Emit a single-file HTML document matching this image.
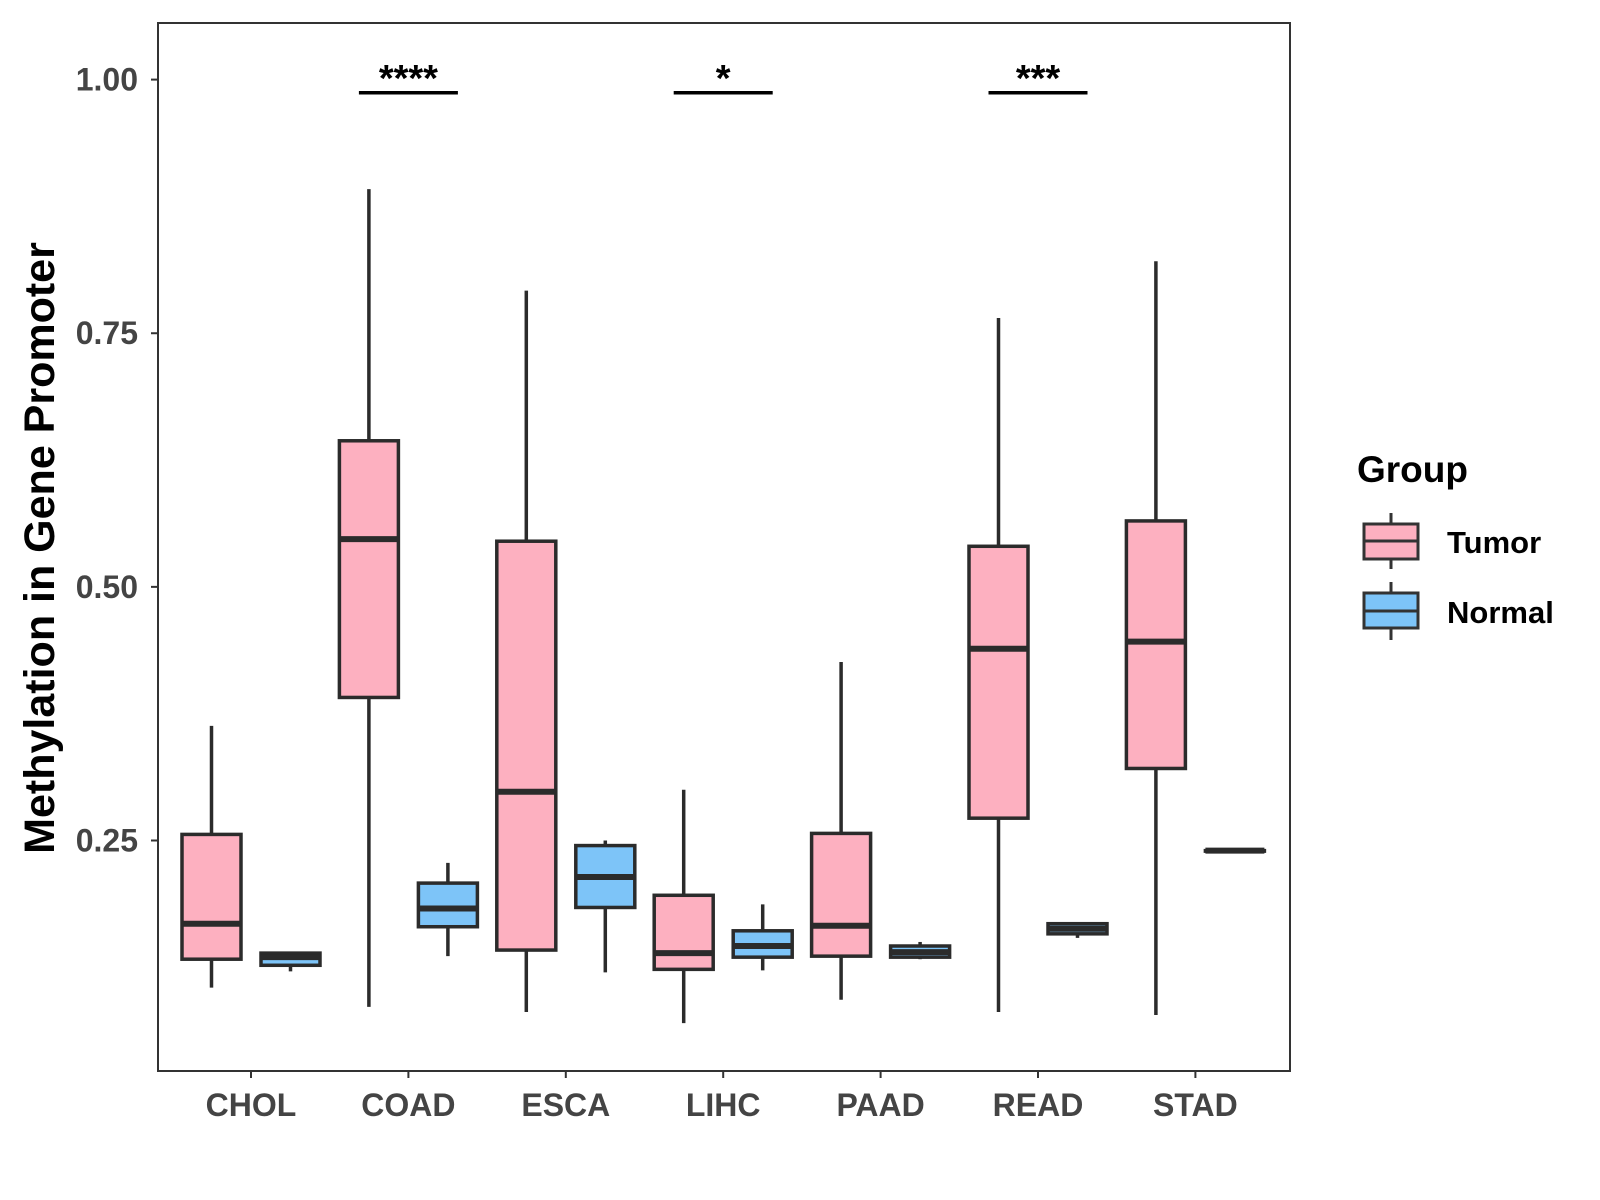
<!DOCTYPE html>
<html><head><meta charset="utf-8"><style>
html,body{margin:0;padding:0;background:#fff;}
svg{display:block;font-family:"Liberation Sans",Arial,sans-serif;font-weight:bold;}
</style></head><body>
<svg id="chart" width="1600" height="1200" viewBox="0 0 1600 1200">
<rect x="0" y="0" width="1600" height="1200" fill="#fff"/>
<g id="plot"></g>
<rect x="158" y="23" width="1132" height="1048" fill="none" stroke="#333" stroke-width="2"/>
<text x="0" y="0" transform="translate(54,548) rotate(-90)" text-anchor="middle" font-size="43" fill="#000">Methylation in Gene Promoter</text>
<g>
<text x="1357" y="482" font-size="37" fill="#000">Group</text>
<g>
<line x1="1391" y1="513" x2="1391" y2="569" stroke="#333" stroke-width="3"/>
<rect x="1364" y="524" width="54" height="35" fill="#FDB0C0" stroke="#333" stroke-width="3"/>
<line x1="1364" y1="541" x2="1418" y2="541" stroke="#333" stroke-width="3"/>
<text x="1447" y="553" font-size="31" fill="#000">Tumor</text>
</g>
<g>
<line x1="1391" y1="582" x2="1391" y2="640" stroke="#333" stroke-width="3"/>
<rect x="1364" y="593" width="54" height="35" fill="#7DC4F8" stroke="#333" stroke-width="3"/>
<line x1="1364" y1="611" x2="1418" y2="611" stroke="#333" stroke-width="3"/>
<text x="1447" y="623" font-size="31" fill="#000">Normal</text>
</g>
</g>
</svg>
<script>
const categories = ["CHOL","COAD","ESCA","LIHC","PAAD","READ","STAD"];
// [lowWhisker, Q1, median, Q3, highWhisker]
const tumorStats = [
 [0.105,0.133,0.168,0.256,0.363],
 [0.086,0.391,0.547,0.644,0.892],
 [0.081,0.142,0.298,0.545,0.792],
 [0.070,0.123,0.139,0.196,0.300],
 [0.093,0.136,0.166,0.257,0.426],
 [0.081,0.272,0.439,0.540,0.765],
 [0.078,0.321,0.446,0.565,0.821]
];
const normalStats = [
 [0.121,0.127,0.135,0.139,0.140],
 [0.136,0.165,0.183,0.208,0.228],
 [0.120,0.184,0.214,0.245,0.250],
 [0.122,0.135,0.146,0.161,0.187],
 [0.133,0.135,0.140,0.146,0.150],
 [0.154,0.158,0.163,0.168,0.169],
 [0.240,0.240,0.240,0.240,0.240]
];
const yTicks = [0.25,0.50,0.75,1.00];
const yTickLabels = ["0.25","0.50","0.75","1.00"];
const sigCategories = ["COAD","LIHC","READ"];
const sigLabels = ["****","*","***"];
const sigLevel = 0.987;

const NS="http://www.w3.org/2000/svg";
const g=document.getElementById('plot');
function y(v){return 79.6+(1-v)*(840.5-79.6)/0.75;}
function x(i){return 251+i*157.4;}
const half=29.5, off=39.5;
function mk(tag,attrs){const e=document.createElementNS(NS,tag);for(const k in attrs)e.setAttribute(k,attrs[k]);g.appendChild(e);return e;}

yTicks.forEach((v,i)=>{
 const t=mk('line',{x1:151,x2:158,y1:y(v),y2:y(v),stroke:'#333','stroke-width':2});
 
 
 const l=mk('text',{x:138,y:y(v)+11,'text-anchor':'end','font-size':32,fill:'#444'});
 l.textContent=yTickLabels[i];
 
 
});
categories.forEach((c,i)=>{
 const t=mk('line',{x1:x(i),x2:x(i),y1:1071,y2:1078,stroke:'#333','stroke-width':2});
 
 
 const l=mk('text',{x:x(i),y:1116,'text-anchor':'middle','font-size':32,fill:'#444'});
 l.textContent=c;
 
 
});
function box(cx,s,fill,name){
 const w=mk('line',{x1:cx,x2:cx,y1:y(s[0]),y2:y(s[4]),stroke:'#2b2b2b','stroke-width':3.5});
 
 
 const r=mk('rect',{x:cx-half,y:y(s[3]),width:2*half,height:Math.max(0.5,y(s[1])-y(s[3])),fill:fill,stroke:'#2b2b2b','stroke-width':3.5});
 
 
 const m=mk('line',{x1:cx-half,x2:cx+half,y1:y(s[2]),y2:y(s[2]),stroke:'#2b2b2b','stroke-width':6});
 
 
}
categories.forEach((c,i)=>{
 box(x(i)-off,tumorStats[i],'#FDB0C0',c.toLowerCase()+'-tumor');
 box(x(i)+off,normalStats[i],'#7DC4F8',c.toLowerCase()+'-normal');
});
sigCategories.forEach((c,k)=>{
 const i=categories.indexOf(c);
 const l=mk('line',{x1:x(i)-off-10,x2:x(i)+off+10,y1:y(sigLevel),y2:y(sigLevel),stroke:'#000','stroke-width':3.5});
 
 
 const t=mk('text',{x:x(i),y:y(sigLevel)-2,'text-anchor':'middle','font-size':38,fill:'#000'});
 t.textContent=sigLabels[k];
 
 
});
</script>
</body></html>
